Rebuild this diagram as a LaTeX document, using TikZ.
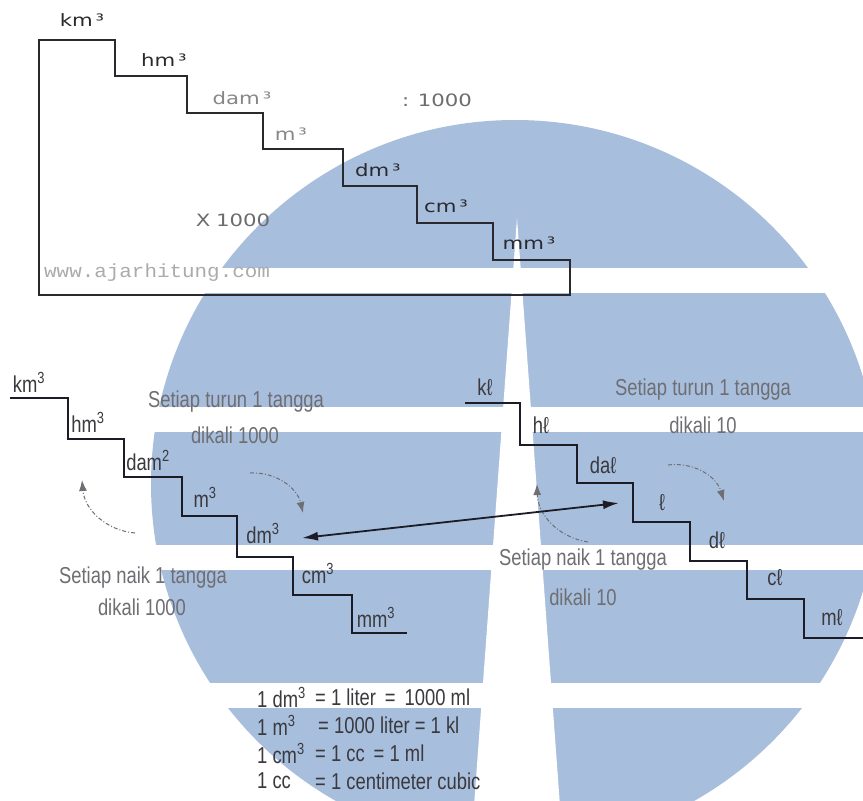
\documentclass[tikz,border=0pt]{standalone}
\usepackage{fontspec}
\usetikzlibrary{arrows.meta}
\newfontfamily\topfont[FakeStretch=1.25]{DejaVu Sans}
\newfontfamily\narrowfont[FakeStretch=0.8]{Liberation Sans}
\newfontfamily\wwwfont[FakeStretch=1.1]{Liberation Mono}
\definecolor{wm}{RGB}{168,190,221}
\definecolor{stairc}{RGB}{28,28,38}
\definecolor{labgray}{RGB}{58,58,62}
\definecolor{notegray}{RGB}{110,110,115}
\definecolor{topdark}{RGB}{42,42,46}
\definecolor{toplight}{RGB}{135,135,138}
\tikzset{
  toplab/.style={font=\topfont\fontsize{17}{20}\selectfont, inner sep=0pt},
  stairlab/.style={font=\narrowfont\fontsize{23}{26}\selectfont, text=labgray, inner sep=0pt},
  notetext/.style={font=\narrowfont\fontsize{23}{26}\selectfont, text=notegray, inner sep=0pt},
  eqtext/.style={font=\narrowfont\fontsize{23}{26}\selectfont, text=labgray, inner sep=0pt, anchor=west},
  topstair/.style={draw=topdark, line width=1.2pt},
  stairline/.style={draw=stairc, line width=1.6pt},
  curvarrow/.style={draw=notegray, line width=1pt, dash pattern=on 4pt off 2pt on 1pt off 2pt,
    -{Latex[length=11pt,width=8pt,fill=notegray]}},
  linkarrow/.style={draw=stairc, line width=1.8pt, {Latex[length=16pt,width=9pt]}-{Latex[length=16pt,width=9pt]}}
}
\begin{document}
\begin{tikzpicture}[x=1pt,y=-1pt]
\path[use as bounding box, fill=white] (0,0) rectangle (863,801);
% watermark
\begin{scope}
  \clip (0,0) rectangle (863,801);
  \fill[wm] (515,484) circle[radius=364pt];
  \fill[white] (517,218) -- (560,806) -- (474,806) -- cycle;
  \fill[white] (0,268) rectangle (863,293);
  \fill[white] (0,407) rectangle (863,432);
  \fill[white] (0,545) rectangle (863,570);
  \fill[white] (0,683) rectangle (863,708);
\end{scope}
% top staircase box
\draw[topstair] (39,295) -- (39,40) -- (115,40) -- (115,76) -- (187,76) -- (187,113) -- (263,113)
  -- (263,149) -- (343,149) -- (343,186) -- (417,186) -- (417,223) -- (493,223) -- (493,260)
  -- (570,260) -- (570,295) -- cycle;
\node[toplab, text=topdark] (tkm) at (82,20) {km\,³};
\node[toplab, text=topdark] (thm) at (164,60) {hm\,³};
\node[toplab, text=toplight] (tdam) at (242,98) {dam\,³};
\node[toplab, text=toplight] (tm) at (291,134) {m\,³};
\node[toplab, text=topdark] (tdm) at (378,170) {dm\,³};
\node[toplab, text=topdark] (tcm) at (446,206) {cm\,³};
\node[toplab, text=topdark] (tmm) at (529,243) {mm\,³};
\node[toplab, text=toplight!80!black] (tdiv) at (437,100) {:\,\,\,1000};
\node[toplab, text=toplight!80!black] (tmul) at (233,220) {X\,\,1000};
\node[font=\wwwfont\fontsize{19}{22}\selectfont, text=toplight!70, inner sep=0pt, anchor=west] (www) at (44,273) {www.ajarhitung.com};
% left staircase (volume)
\draw[stairline] (10,398) -- (68,398) -- (68,439) -- (124,439) -- (124,477) -- (182,477) -- (182,516)
  -- (237,516) -- (237,557) -- (293,557) -- (293,595) -- (352,595) -- (352,633) -- (407,633);
\node[stairlab] (lkm) at (29,382) {km\textsuperscript{3}};
\node[stairlab] (lhm) at (88,422) {hm\textsuperscript{3}};
\node[stairlab] (ldam) at (148,460) {dam\textsuperscript{2}};
\node[stairlab] (lm) at (205,497) {m\textsuperscript{3}};
\node[stairlab] (ldm) at (263,533) {dm\textsuperscript{3}};
\node[stairlab] (lcm) at (318,573) {cm\textsuperscript{3}};
\node[stairlab] (lmm) at (376,617) {mm\textsuperscript{3}};
\node[notetext] (lt1) at (236,402) {Setiap turun 1 tangga};
\node[notetext] (lt2) at (235,435) {dikali 1000};
\node[notetext] (ln1) at (143,578) {Setiap naik 1 tangga};
\node[notetext] (ln2) at (142,607) {dikali 1000};
\coordinate (lupS) at (135,533);
\coordinate (lupE) at (82,480);
\coordinate (ldnS) at (250,473);
\coordinate (ldnE) at (303,513);
\draw[curvarrow] (lupS) to[bend left=40] (lupE);
\draw[curvarrow] (ldnS) to[bend left=40] (ldnE);
% right staircase (liquid)
\draw[stairline] (465,403) -- (520,403) -- (520,445) -- (577,445) -- (577,483) -- (633,483) -- (633,522)
  -- (690,522) -- (690,561) -- (747,561) -- (747,599) -- (804,599) -- (804,638) -- (863,638);
\node[stairlab] (rkl) at (485,387) {kℓ};
\node[stairlab] (rhl) at (541,425) {hℓ};
\node[stairlab] (rdal) at (603,465) {daℓ};
\node[stairlab] (rl) at (662,503) {ℓ};
\node[stairlab] (rdl) at (717,540) {dℓ};
\node[stairlab] (rcl) at (775,578) {cℓ};
\node[stairlab] (rml) at (832,618) {mℓ};
\node[notetext] (rt1) at (703,390) {Setiap turun 1 tangga};
\node[notetext] (rt2) at (703,425) {dikali 10};
\node[notetext] (rn1) at (583,560) {Setiap naik 1 tangga};
\node[notetext] (rn2) at (583,597) {dikali 10};
\coordinate (rupS) at (588,542);
\coordinate (rupE) at (537,484);
\coordinate (rdnS) at (668,465);
\coordinate (rdnE) at (724,501);
\draw[curvarrow] (rupS) to[bend left=40] (rupE);
\draw[curvarrow] (rdnS) to[bend left=40] (rdnE);
% link between dm3 and liter
\coordinate (linkL) at (302,538);
\coordinate (linkR) at (619,503);
\draw[linkarrow] (linkL) -- (linkR);
% equivalences
\node[eqtext] (e1a) at (257,697) {1 dm\textsuperscript{3}};
\node[eqtext] (e1b) at (315,697) {= 1 liter \,=\, 1000 ml};
\node[eqtext] (e2a) at (257,725) {1 m\textsuperscript{3}};
\node[eqtext] (e2b) at (318,725) {= 1000 liter = 1 kl};
\node[eqtext] (e3a) at (257,753) {1 cm\textsuperscript{3}};
\node[eqtext] (e3b) at (315,753) {= 1 cc \,= 1 ml};
\node[eqtext] (e4a) at (257,781) {1 cc};
\node[eqtext] (e4b) at (315,781) {= 1 centimeter cubic};
\end{tikzpicture}
\end{document}
